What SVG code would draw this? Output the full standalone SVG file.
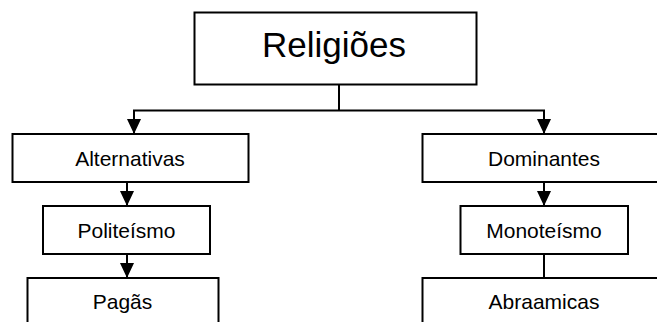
<svg xmlns="http://www.w3.org/2000/svg" width="657" height="322" viewBox="0 0 657 322">
<style>
.box{fill:#fff;stroke:#000;stroke-width:2}
.lbl{font-family:"Liberation Sans",Arial,sans-serif;font-size:21px;fill:#000;text-anchor:middle}
.big{font-size:35px}
.ln{fill:none;stroke:#000;stroke-width:2}
</style>
<defs>
<marker id="ah" markerUnits="userSpaceOnUse" markerWidth="15" markerHeight="14" viewBox="0 0 15 14" refX="15" refY="7" orient="auto">
<path d="M0,0 L15,7 L0,14 z" fill="#000"/>
</marker>
</defs>
<rect width="657" height="322" fill="#fff"/>
<g id="connectors">
<path class="ln" d="M339,85 V110.5"/>
<path class="ln" d="M133,110.5 H545"/>
<path class="ln" d="M134,110.5 V134" marker-end="url(#ah)"/>
<path class="ln" d="M544,110.5 V134" marker-end="url(#ah)"/>
<path class="ln" d="M127,182 V206" marker-end="url(#ah)"/>
<path class="ln" d="M544,182 V206" marker-end="url(#ah)"/>
<path class="ln" d="M127,254 V278" marker-end="url(#ah)"/>
<path class="ln" d="M544,254 V278"/>
</g>
<g id="religioes">
<rect class="box" x="194.5" y="12.5" width="282" height="72"/>
<text class="lbl big" x="334" y="57">Religiões</text>
</g>
<g id="alternativas">
<rect class="box" x="12.5" y="134" width="236" height="48"/>
<text class="lbl" x="130" y="166">Alternativas</text>
</g>
<g id="dominantes">
<rect class="box" x="422.5" y="134" width="236" height="48"/>
<text class="lbl" x="544" y="166">Dominantes</text>
</g>
<g id="politeismo">
<rect class="box" x="43" y="206" width="167" height="48"/>
<text class="lbl" x="126.5" y="238">Politeísmo</text>
</g>
<g id="monoteismo">
<rect class="box" x="460.5" y="206" width="167.5" height="48"/>
<text class="lbl" x="544" y="238">Monoteísmo</text>
</g>
<g id="pagas">
<rect class="box" x="27.5" y="278" width="191" height="60"/>
<text class="lbl" x="122.5" y="309">Pagãs</text>
</g>
<g id="abraamicas">
<rect class="box" x="422.5" y="278" width="242" height="60"/>
<text class="lbl" x="544" y="309">Abraamicas</text>
</g>
</svg>
